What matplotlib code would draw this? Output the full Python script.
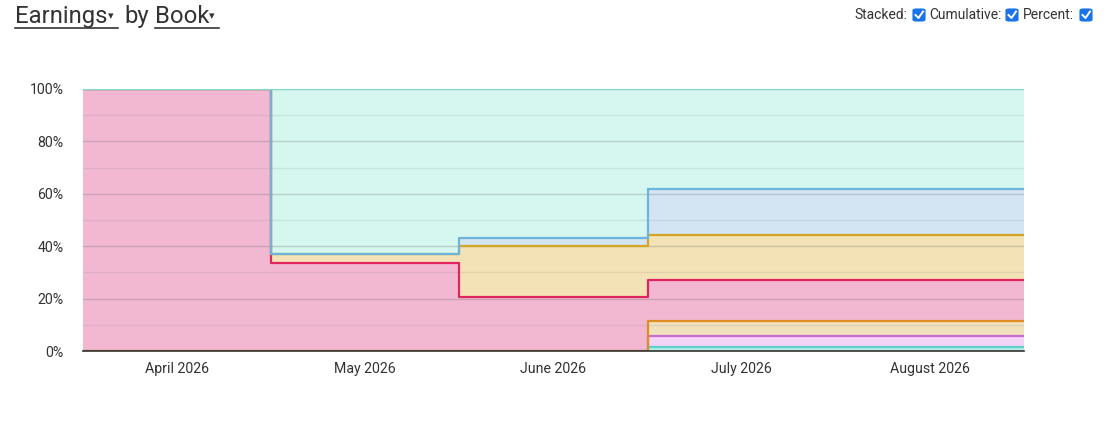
import numpy as np
import matplotlib
matplotlib.use("Agg")
from matplotlib import pyplot as plt
from matplotlib.patches import FancyBboxPatch

plt.rcParams['font.family'] = ['Roboto', 'DejaVu Sans']

# Данные: доли (в %) по книгам, по месяцам
months = ['April 2026', 'May 2026', 'June 2026', 'July 2026', 'August 2026']
book_small_teal = [0, 0, 0, 1.6, 1.6]
book_violet = [0, 0, 0, 4.2, 4.2]
book_orange = [0, 0, 0, 5.8, 5.8]
book_pink = [100, 33.7, 20.6, 15.5, 15.5]
book_tan = [0, 3.5, 19.5, 17.2, 17.2]
book_blue = [0, 0, 3.0, 17.5, 17.5]
book_mint = [0, 62.8, 56.9, 38.2, 38.2]

series = [book_small_teal, book_violet, book_orange, book_pink,
          book_tan, book_blue, book_mint]
fills = ['#b4ede7', '#f3d3f6', '#f0e1bc', '#f2b8d2',
         '#f3e2b5', '#d3e4f3', '#d5f7f0']
lines = ['#5fd0cc', '#cc6ad4', '#e08c22', '#e0245e',
         '#d4a424', '#6cb4dc', '#7ddcd2']

W, H = 1108, 423
fig = plt.figure(figsize=(W / 100, H / 100), dpi=100)


def px(x, y):
    return x / W, 1 - y / H


ax = fig.add_axes([83 / W, 1 - 351 / H, (1024 - 83) / W, (351 - 89) / H])

x = np.arange(len(months) + 1)
lower = np.zeros(len(months))
tops = []
for vals, fc in zip(series, fills):
    upper = lower + np.array(vals, dtype=float)
    ax.fill_between(x, np.append(lower, lower[-1]), np.append(upper, upper[-1]),
                    step='post', color=fc, linewidth=0, zorder=1)
    tops.append(upper)
    lower = upper

# Сетка поверх заливки
for v in range(0, 101, 10):
    ax.axhline(v, color='#707070', alpha=0.3 if v % 20 == 0 else 0.13,
               linewidth=1, zorder=2)

for upper, lc in zip(tops, lines):
    ax.step(x, np.append(upper, upper[-1]), where='post', color=lc,
            linewidth=1.6, zorder=3)

ax.set_xlim(0, len(months))
ax.set_ylim(0, 100)
ax.set_xticks(np.arange(len(months)) + 0.5)
ax.set_xticklabels(months)
ax.set_yticks(range(0, 101, 20))
ax.set_yticklabels([f'{v}%' for v in range(0, 101, 20)])
ax.tick_params(length=0, labelsize=10.2, colors='#333333', pad=8)
ax.tick_params(axis='y', pad=14)
for s in ['top', 'right', 'left']:
    ax.spines[s].set_visible(False)
ax.spines['bottom'].set_color('#333333')
ax.spines['bottom'].set_linewidth(1.2)
ax.spines['bottom'].set_zorder(4)

# Заголовок
fig.text(*px(15, 23), 'Earnings', fontsize=17.2, color='#333333', va='baseline')
fig.text(*px(108, 19), '▾', fontsize=8, color='#333333', va='baseline')
fig.text(*px(124, 23), 'by', fontsize=17.2, color='#333333', va='baseline')
fig.text(*px(155, 23), 'Book', fontsize=17.2, color='#333333', va='baseline')
fig.text(*px(209, 19), '▾', fontsize=8, color='#333333', va='baseline')
for x0, x1 in [(15, 118), (155, 219)]:
    fig.add_artist(plt.Line2D([x0 / W, x1 / W], [1 - 28.5 / H] * 2,
                              color='#222222', linewidth=1.1))

# Чекбоксы
for label, lx, bx in [('Stacked:', 854, 912), ('Cumulative:', 929, 1005),
                      ('Percent:', 1023, 1079)]:
    fig.text(*px(lx, 15), label, fontsize=10, color='#333333', va='center')
    box = FancyBboxPatch(((bx + 1) / W, 1 - 21 / H), 12 / W, 12 / H,
                         boxstyle='round,pad=0,rounding_size=0.003',
                         transform=fig.transFigure, facecolor='#1a73e8',
                         edgecolor='#1a73e8', linewidth=0.8)
    fig.add_artist(box)
    fig.add_artist(plt.Line2D([(bx + 3.5) / W, (bx + 6.5) / W, (bx + 11) / W],
                              [1 - 15 / H, 1 - 18 / H, 1 - 11.5 / H],
                              color='white', linewidth=1.4))

fig.savefig('out.png', dpi=100)
